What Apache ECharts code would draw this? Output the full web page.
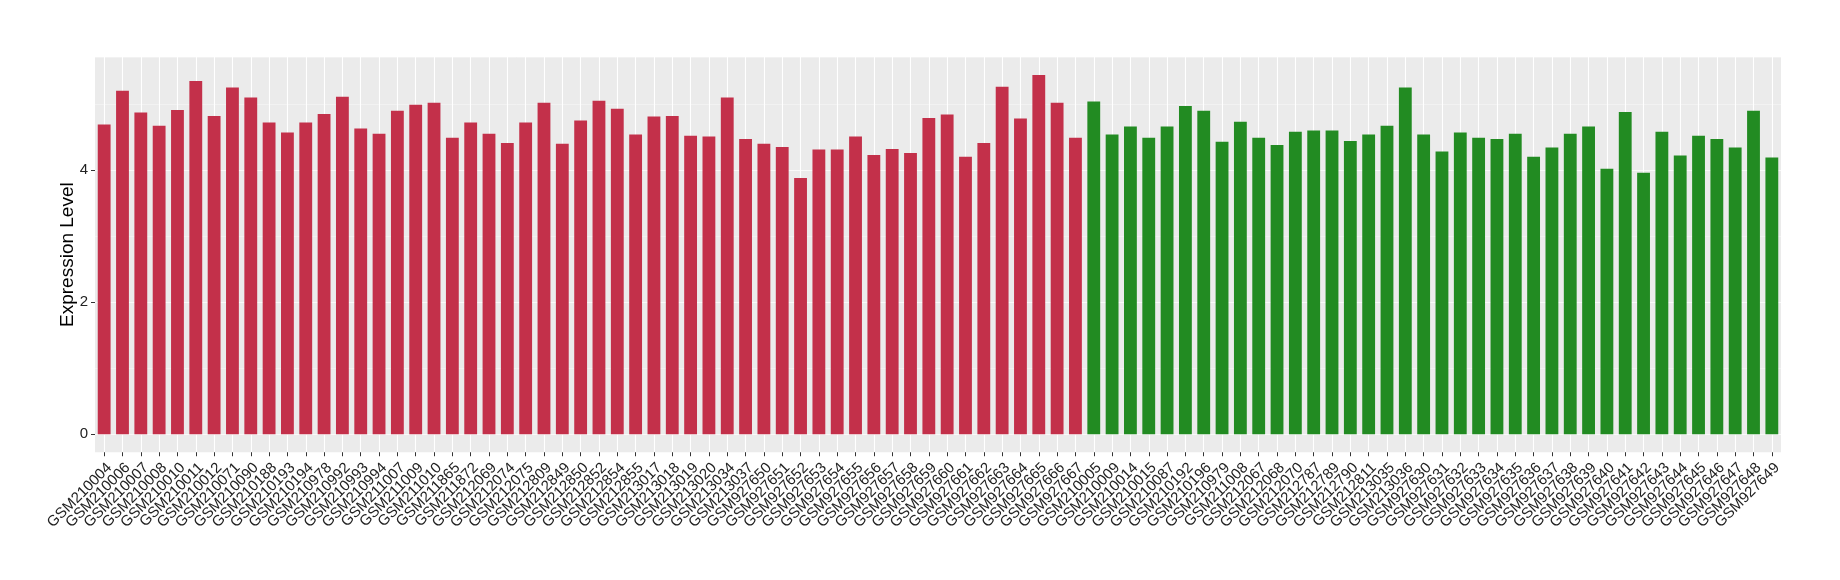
<!DOCTYPE html>
<html>
<head>
<meta charset="utf-8">
<script src="https://cdn.jsdelivr.net/npm/echarts@6/dist/echarts.min.js"></script>
<style>
html,body{margin:0;padding:0;background:#fff;}
#chart{width:1840px;height:580px;}
</style>
</head>
<body>
<div id="chart"></div>
<script>
// Group 1 (red)
const redSamples = ["GSM210004","GSM210006","GSM210007","GSM210008","GSM210010","GSM210011","GSM210012","GSM210071","GSM210090","GSM210188","GSM210193","GSM210194","GSM210978","GSM210992","GSM210993","GSM210994","GSM211007","GSM211009","GSM211010","GSM211865","GSM211872","GSM212069","GSM212074","GSM212075","GSM212809","GSM212849","GSM212850","GSM212852","GSM212854","GSM212855","GSM213017","GSM213018","GSM213019","GSM213020","GSM213034","GSM213037","GSM927650","GSM927651","GSM927652","GSM927653","GSM927654","GSM927655","GSM927656","GSM927657","GSM927658","GSM927659","GSM927660","GSM927661","GSM927662","GSM927663","GSM927664","GSM927665","GSM927666","GSM927667"];
const redValues = [4.69,5.20,4.87,4.67,4.91,5.35,4.82,5.25,5.10,4.72,4.57,4.72,4.85,5.11,4.63,4.55,4.90,4.99,5.02,4.49,4.72,4.55,4.41,4.72,5.02,4.40,4.75,5.05,4.93,4.54,4.81,4.82,4.52,4.51,5.10,4.47,4.40,4.35,3.88,4.31,4.31,4.51,4.23,4.32,4.26,4.79,4.84,4.20,4.41,5.26,4.78,5.44,5.02,4.49];
// Group 2 (green)
const greenSamples = ["GSM210005","GSM210009","GSM210014","GSM210015","GSM210087","GSM210192","GSM210196","GSM210979","GSM211008","GSM212067","GSM212068","GSM212070","GSM212787","GSM212789","GSM212790","GSM212811","GSM213035","GSM213036","GSM927630","GSM927631","GSM927632","GSM927633","GSM927634","GSM927635","GSM927636","GSM927637","GSM927638","GSM927639","GSM927640","GSM927641","GSM927642","GSM927643","GSM927644","GSM927645","GSM927646","GSM927647","GSM927648","GSM927649"];
const greenValues = [5.04,4.54,4.66,4.49,4.66,4.97,4.90,4.43,4.73,4.49,4.38,4.58,4.60,4.60,4.44,4.54,4.67,5.25,4.54,4.28,4.57,4.49,4.47,4.55,4.20,4.34,4.55,4.66,4.02,4.88,3.96,4.58,4.22,4.52,4.47,4.34,4.90,4.19];
const yTicks = [0, 2, 4];
const yTitle = "Expression Level";

const RED = "#C3304A", GREEN = "#228B22";
const categories = redSamples.concat(greenSamples);
const barData = redValues.map(v => ({value: v, itemStyle: {color: RED}}))
  .concat(greenValues.map(v => ({value: v, itemStyle: {color: GREEN}})));

const allVals = redValues.concat(greenValues);
const vmax = Math.max.apply(null, allVals);
const yTop = vmax * 1.05;          // ggplot-style expansion
const yBottomExp = vmax * 0.05;

const G_LEFT = 95, G_WIDTH = 1686, G_TOP = 57;
const unit = 66.05;
const zeroY = G_TOP + yTop * unit;
const panelBottom = zeroY + yBottomExp * unit;
const FONT = "Liberation Sans, Arial, Helvetica, sans-serif";

const chart = echarts.init(document.getElementById('chart'), null, {renderer: 'canvas'});
chart.setOption({
  animation: false,
  backgroundColor: '#ffffff',
  grid: [
    {left: G_LEFT, width: G_WIDTH, top: G_TOP, height: panelBottom - G_TOP, show: true, backgroundColor: '#EBEBEB', borderWidth: 0, containLabel: false},
    {left: G_LEFT, width: G_WIDTH, top: G_TOP, height: zeroY - G_TOP, show: false, containLabel: false}
  ],
  xAxis: [
    {
      gridIndex: 0, type: 'category', data: categories,
      axisLine: {show: false},
      axisTick: {show: true, alignWithLabel: true, length: 4, lineStyle: {color: '#333333', width: 1}},
      splitLine: {show: true, alignWithLabel: true, lineStyle: {color: '#ffffff', width: 1.1}},
      axisLabel: {interval: 0, rotate: 45, margin: 8, align: 'right', verticalAlign: 'top',
                  fontSize: 15, color: '#222222', fontFamily: FONT}
    },
    {gridIndex: 1, type: 'category', data: categories, show: false}
  ],
  yAxis: [
    {
      gridIndex: 0, type: 'value', min: 0, max: 1,
      axisLine: {show: false}, axisTick: {show: false}, axisLabel: {show: false}, splitLine: {show: false},
      name: yTitle, nameLocation: 'middle', nameGap: 18, nameRotate: 90,
      nameTextStyle: {fontSize: 19, color: '#000000', fontFamily: FONT}
    },
    {
      gridIndex: 1, type: 'value', min: 0, max: yTop, interval: 2,
      axisLine: {show: false},
      axisTick: {show: true, length: 4, customValues: yTicks, lineStyle: {color: '#333333', width: 1}},
      axisLabel: {show: true, margin: 7, fontSize: 15, color: '#222222', fontFamily: FONT, customValues: yTicks},
      splitLine: {show: true, lineStyle: {color: '#ffffff', width: 1.1}}
    },
    {
      gridIndex: 1, type: 'value', min: 0, max: yTop, interval: 1,
      axisLine: {show: false}, axisTick: {show: false}, axisLabel: {show: false},
      splitLine: {show: true, lineStyle: {color: '#F7F7F7', width: 0.6}}
    }
  ],
  series: [
    {
      type: 'bar', xAxisIndex: 1, yAxisIndex: 1,
      data: barData, barWidth: '70%', z: 3
    }
  ]
});
</script>
</body>
</html>
